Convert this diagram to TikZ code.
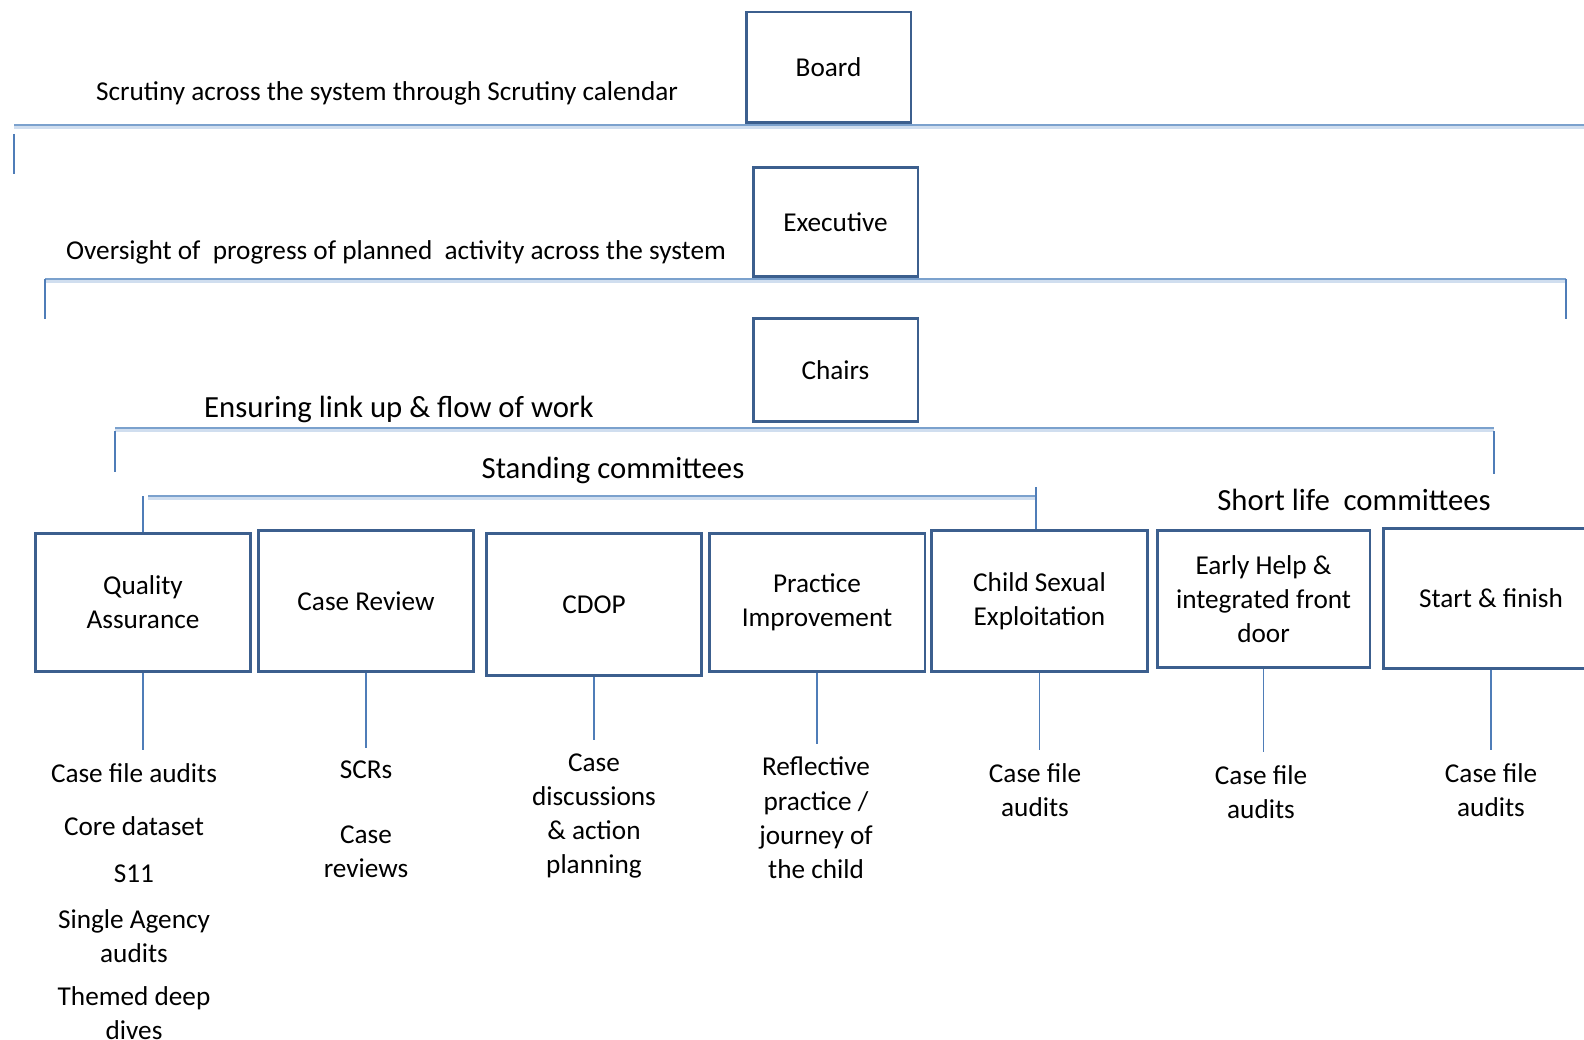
\documentclass[tikz,border=0pt]{standalone}
\usepackage{fontspec}
\setmainfont{Carlito}
\usepackage{tikz}
\usetikzlibrary{calc}
\definecolor{boxblue}{RGB}{60,95,142}
\definecolor{barblue}{RGB}{123,161,205}
\definecolor{barpale}{RGB}{208,222,239}
\definecolor{stemblue}{RGB}{79,125,184}
\tikzset{
  unit/.style={draw=boxblue, line width=1.7pt, align=center, inner sep=2pt,
    font=\fontsize{15.5}{19.5}\selectfont},
  bar/.style={draw=barblue, line width=1.4pt,
    preaction={draw=barpale, line width=2.6pt, transform canvas={yshift=-1.2pt}}},
  stem/.style={draw=stemblue, line width=1.1pt},
  note/.style={align=center, inner sep=0pt, font=\fontsize{15.5}{19.5}\selectfont},
  head/.style={inner sep=0pt, font=\fontsize{17.5}{21}\selectfont}
}
\begin{document}
\begin{tikzpicture}[x=0.02cm, y=-0.02cm]
				\useasboundingbox (0,0) rectangle (1584,1040);
				
				% the three top levels
				\node[unit, minimum width=3.3cm, minimum height=2.22cm] (board) at (828.5,67.5) {Board};
				\node[unit, minimum width=3.3cm, minimum height=2.2cm] (exec) at (835.5,222) {Executive};
				\node[unit, minimum width=3.3cm, minimum height=2.08cm] (chairs) at (835.5,370) {Chairs};
				
				% labels along the bars
				\node[note] (scrutiny) at (387,93) {Scrutiny across the system through Scrutiny calendar};
				\node[note] (oversight) at (396,252) {Oversight of~ progress of planned~ activity across the system};
				\node[head] (ensure) at (399,409) {Ensuring link up \& flow of work};
				\node[head] (standing) at (613,470) {Standing committees};
				\node[head] (shortlife) at (1354,500) {Short life~ committees};
				
				% ends of the bars
				\coordinate (scrut-l) at (14,125);
				\coordinate (scrut-r) at (1584,125);
				\coordinate (over-l) at (45,279);
				\coordinate (over-r) at (1566,279);
				\coordinate (ens-l) at (115,428);
				\coordinate (ens-r) at (1494,428);
				\coordinate (stand-l) at (148,496);
				\coordinate (stand-r) at (1036,496);
				
				\draw[bar] (scrut-l) -- (scrut-r);
				\draw[bar] (over-l) -- (over-r);
				\draw[bar] (ens-l) -- (ens-r);
				\draw[bar] (stand-l) -- (stand-r);
				
				% short drops from the bars
				\draw[stem] ($(scrut-l)+(0,9)$) -- ($(scrut-l)+(0,49)$);
				\draw[stem] (over-l) -- ($(over-l)+(0,40)$);
				\draw[stem] (over-r) -- ($(over-r)+(0,40)$);
				\draw[stem] ($(ens-l)+(0,3)$) -- ($(ens-l)+(0,44)$);
				\draw[stem] ($(ens-r)+(0,3)$) -- ($(ens-r)+(0,46)$);
				
				% committees
				\node[unit, minimum width=4.32cm, minimum height=2.78cm] (qa) at (143,602.5) {Quality\\Assurance};
				\node[unit, minimum width=4.32cm, minimum height=2.84cm] (cr) at (366,601) {Case Review};
				\node[unit, minimum width=4.32cm, minimum height=2.86cm] (cdop) at (594,604.5) {CDOP};
				\node[unit, minimum width=4.32cm, minimum height=2.78cm] (pi) at (817,602.5) {Practice\\Improvement};
				\node[unit, minimum width=4.32cm, minimum height=2.84cm] (cse) at (1039.5,601) {Child Sexual\\Exploitation};
				\node[unit, minimum width=4.26cm, minimum height=2.76cm] (eh) at (1263.5,599) {Early Help \&\\integrated front\\door};
				\node[unit, minimum width=4.32cm, minimum height=2.82cm] (sf) at (1491,598.5) {Start \& finish};
				
				\draw[stem] (qa.north) -- (qa.north |- stand-l);
				\draw[stem] ($(stand-r)+(0,-9)$) -- (stand-r |- cse.north);
				
				% work under each committee
				\node[note] (qa1) at (134,773) {Case file audits};
				\node[note] (qa2) at (134,826) {Core dataset};
				\node[note] (qa3) at (134,874) {S11};
				\node[note] (qa4) at (134,936) {Single Agency\\audits};
				\node[note] (qa5) at (134,1013) {Themed deep\\dives};
				\node[note] (cr1) at (366,770) {SCRs};
				\node[note] (cr2) at (366,852) {Case\\reviews};
				\node[note] (cdop1) at (594,816) {Case\\discussions\\\& action\\planning};
				\node[note] (pi1) at (816,818) {Reflective\\practice /\\journey of\\the child};
				\node[note] (cse1) at (1035,790) {Case file\\audits};
				\node[note] (eh1) at (1261,792) {Case file\\audits};
				\node[note] (sf1) at (1491,790) {Case file\\audits};
				
				\draw[stem, shorten >=0.26cm] (qa.south) -- (qa.south |- qa1.north);
				\draw[stem, shorten >=0.26cm] (cr.south) -- (cr.south |- cr1.north);
				\draw[stem, shorten >=0.26cm] (cdop.south) -- (cdop.south |- cdop1.north);
				\draw[stem, shorten >=0.26cm] (pi.south) -- (pi.south |- pi1.north);
				\draw[stem, shorten >=0.26cm] (cse.south) -- (cse.south |- cse1.north);
				\draw[stem, shorten >=0.26cm] (eh.south) -- (eh.south |- eh1.north);
				\draw[stem, shorten >=0.26cm] (sf.south) -- (sf.south |- sf1.north);
				
\end{tikzpicture}
\end{document}
